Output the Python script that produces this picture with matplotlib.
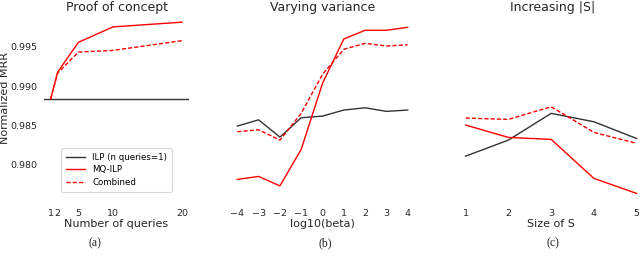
import numpy as np
import matplotlib.pyplot as plt

# data
n_queries = [1, 2, 5, 10, 20]
ilp_a = 0.98835
mq_a = [0.98835, 0.99176, 0.99555, 0.99752, 0.99812]
comb_a = [0.98835, 0.99163, 0.99432, 0.99453, 0.99577]

log_beta = [-4, -3, -2, -1, 0, 1, 2, 3, 4]
ilp_b = [0.98491, 0.98571, 0.98351, 0.98597, 0.98618, 0.98695, 0.98724, 0.98678, 0.98695]
mq_b = [0.97813, 0.97851, 0.97731, 0.98195, 0.99034, 0.99598, 0.99709, 0.99709, 0.99747]
comb_b = [0.98419, 0.98444, 0.98313, 0.98653, 0.99149, 0.99467, 0.99543, 0.99509, 0.99525]

size_s = [1, 2, 3, 4, 5]
ilp_c = [0.98109, 0.98313, 0.98653, 0.98546, 0.98333]
mq_c = [0.98504, 0.98347, 0.98322, 0.97826, 0.97635]
comb_c = [0.98593, 0.98576, 0.98737, 0.98411, 0.98271]

W, H = 640, 259
fig = plt.figure(figsize=(W / 100, H / 100), dpi=100)

def px_axes(left, right, top=13.6, bottom=202):
    return fig.add_axes([left / W, 1 - bottom / H, (right - left) / W, (bottom - top) / H])

ax_a = px_axes(44.1, 188.6)
ax_b = px_axes(228.8, 416.2)
ax_c = px_axes(457.1, 645.2)

dark = '#333333'
txt = '#262626'
lw = 1.0
dash = (0, (3, 1.5))
ylim = (0.97526, 0.99921)

ax_a.axhline(ilp_a, color=dark, lw=lw, label='ILP (n queries=1)')
ax_a.plot(n_queries, mq_a, color='red', lw=lw, label='MQ-ILP')
ax_a.plot(n_queries, comb_a, color='red', lw=lw, ls=dash, label='Combined')
ax_a.set_xticks(n_queries)
ax_a.set_xticklabels(['1', '2', '5', '10', '20'])
ax_a.set_xlim(0.05, 20.95)
ax_a.set_yticks([0.980, 0.985, 0.990, 0.995])
ax_a.set_ylabel('Normalized MRR', fontsize=8, color=txt)
ax_a.yaxis.set_label_coords(-0.236, 0.55)
ax_a.set_xlabel('Number of queries', fontsize=8, color=txt, labelpad=1)
leg = ax_a.legend(loc='lower center', fontsize=6.2, frameon=True, handlelength=2.3,
                  borderpad=0.55, labelspacing=0.45, bbox_to_anchor=(0.5, 0.03))
leg.get_frame().set_edgecolor('#cccccc')
leg.get_frame().set_linewidth(0.8)

ax_b.plot(log_beta, ilp_b, color=dark, lw=lw)
ax_b.plot(log_beta, mq_b, color='red', lw=lw)
ax_b.plot(log_beta, comb_b, color='red', lw=lw, ls=dash)
ax_b.set_xticks(log_beta)
ax_b.set_xticklabels(['\u2212%d' % -v if v < 0 else str(v) for v in log_beta])
ax_b.set_xlim(-4.4, 4.4)
ax_b.set_xlabel('log10(beta)', fontsize=8, color=txt, labelpad=1)

ax_c.plot(size_s, ilp_c, color=dark, lw=lw)
ax_c.plot(size_s, mq_c, color='red', lw=lw)
ax_c.plot(size_s, comb_c, color='red', lw=lw, ls=dash)
ax_c.set_xticks(size_s)
ax_c.set_xlim(0.8, 5.2)
ax_c.set_xlabel('Size of S', fontsize=8, color=txt, labelpad=1)

for ax in (ax_a, ax_b, ax_c):
    ax.set_ylim(*ylim)
    for s in ax.spines.values():
        s.set_visible(False)
    ax.tick_params(length=0, labelsize=6.8, colors=txt, pad=5)
for ax in (ax_b, ax_c):
    ax.set_yticks([0.980, 0.985, 0.990, 0.995])
    ax.tick_params(labelleft=False)

# titles, placed in pixels so they stay inside the figure
for x, lab in [(116.5, 'Proof of concept'), (322.5, 'Varying variance'), (553, 'Increasing |S|')]:
    fig.text(x / W, 1 - 8 / H, lab, ha='center', va='center', fontsize=9, color=txt)

for x, lab in [(95, '(a)'), (325, '(b)'), (553, '(c)')]:
    fig.text(x / W, 1 - 243 / H, lab, ha='center', va='center',
             family='Liberation Serif', fontsize=8.5, color='#222222')

fig.savefig('out.png', dpi=100)
